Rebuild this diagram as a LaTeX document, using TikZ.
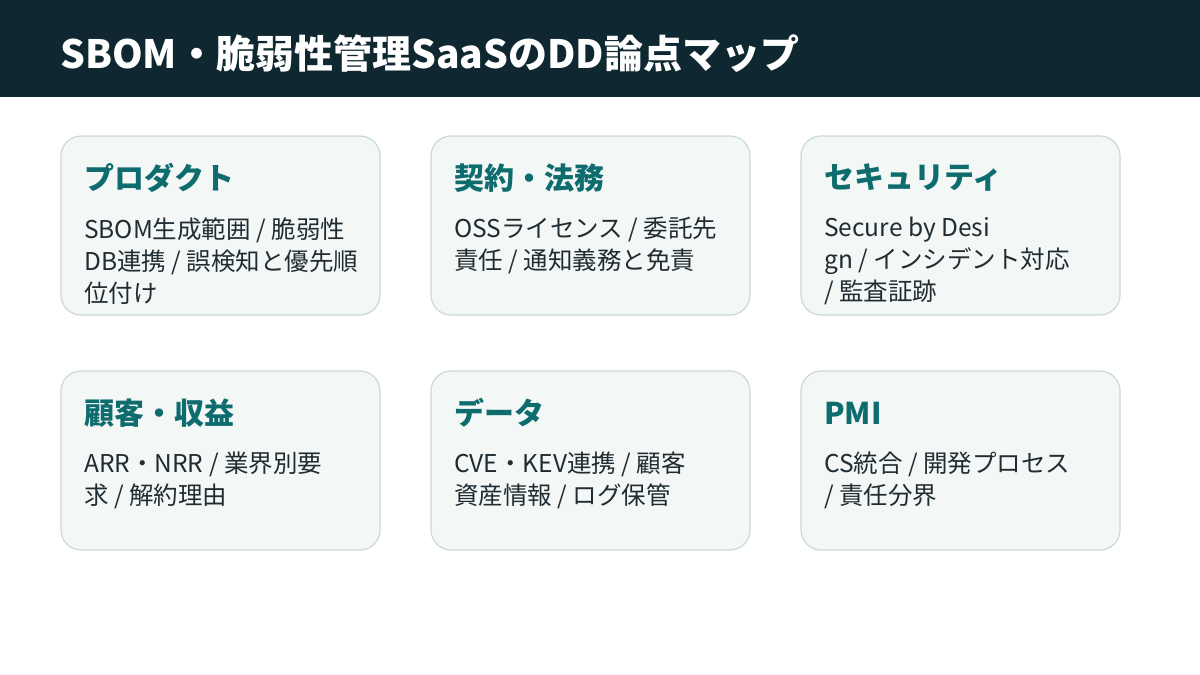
\documentclass[tikz,border=0pt]{standalone}
\usepackage{fontspec}
\setmainfont{Noto Sans CJK JP}
\usetikzlibrary{positioning}
\definecolor{headbg}{HTML}{0F2730}
\definecolor{cardbg}{HTML}{F3F7F6}
\definecolor{cardline}{HTML}{C9DAD5}
\definecolor{headteal}{HTML}{0E6B6E}
\definecolor{bodytext}{HTML}{1F2D33}
\tikzset{
  card/.style={draw=cardline, fill=cardbg, line width=1.2pt, rounded corners=20pt},
  cardhead/.style={anchor=west, inner sep=0pt, text=headteal, font=\fontsize{30}{34}\selectfont\bfseries},
  cardbody/.style={anchor=north west, inner sep=0pt, align=left, text=bodytext, font=\fontsize{24.5}{32}\selectfont},
}
\newcommand{\ddcard}[5]{%
  \draw[card] (#1,#2) rectangle ++(319,179);
  \node[cardhead] (#3h) at (#1+23,#2+42) {#4};
  \node[cardbody] (#3b) at (#1+23,#2+81) {#5};
}
\begin{document}
\begin{tikzpicture}[x=1pt,y=-1pt]
  \useasboundingbox (0,0) rectangle (1200,675);
  \fill[headbg] (0,0) rectangle (1200,97);
  \node[anchor=west, inner sep=0pt, text=white, font=\fontsize{39}{44}\selectfont\bfseries] (title) at (60,54) {SBOM・脆弱性管理SaaSのDD論点マップ};
  % cards, top row
  \ddcard{61}{136}{prod}{プロダクト}{SBOM生成範囲 / 脆弱性\\DB連携 / 誤検知と優先順\\位付け}
  \ddcard{431}{136}{legal}{契約・法務}{OSSライセンス / 委託先\\責任 / 通知義務と免責}
  \ddcard{801}{136}{sec}{セキュリティ}{Secure by Desi\\gn / インシデント対応\\/ 監査証跡}
  % cards, bottom row
  \ddcard{61}{371}{cust}{顧客・収益}{ARR・NRR / 業界別要\\求 / 解約理由}
  \ddcard{431}{371}{data}{データ}{CVE・KEV連携 / 顧客\\資産情報 / ログ保管}
  \ddcard{801}{371}{pmi}{PMI}{CS統合 / 開発プロセス\\/ 責任分界}
\end{tikzpicture}
\end{document}
